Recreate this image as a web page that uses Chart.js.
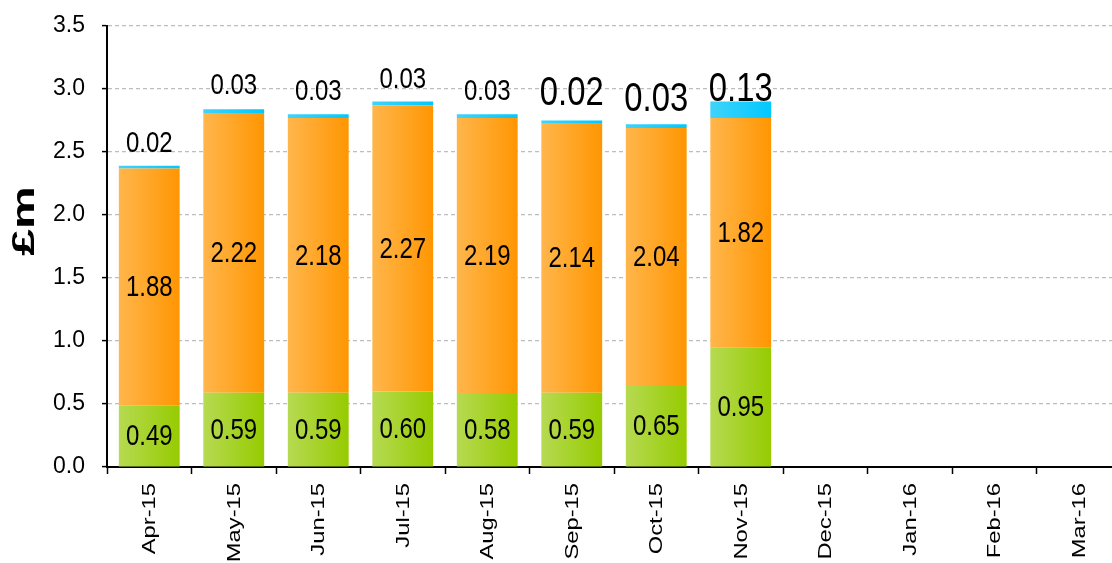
<!DOCTYPE html>
<html>
<head>
<meta charset="utf-8">
<script src="https://cdn.jsdelivr.net/npm/chart.js@4"></script>
<style>
html, body { margin: 0; padding: 0; overflow: hidden; background: #fff; }
canvas { display: block; }
</style>
</head>
<body>
<canvas id="c" width="1124" height="563"></canvas>
<script>
// ---- data ----
const categories = ['Apr-15','May-15','Jun-15','Jul-15','Aug-15','Sep-15','Oct-15','Nov-15','Dec-15','Jan-16','Feb-16','Mar-16'];
const greenValues  = [0.49, 0.59, 0.59, 0.60, 0.58, 0.59, 0.65, 0.95, null, null, null, null];
const orangeValues = [1.88, 2.22, 2.18, 2.27, 2.19, 2.14, 2.04, 1.82, null, null, null, null];
const blueValues   = [0.02, 0.03, 0.03, 0.03, 0.03, 0.02, 0.03, 0.13, null, null, null, null];
const yTickValues  = [0, 0.5, 1.0, 1.5, 2.0, 2.5, 3.0, 3.5];
const yTitle = '£m';

// ---- styles ----
const topLabelSize = [30, 30, 30, 30, 30, 41, 41, 41];
const topLabelGap  = [14, 15, 14, 14, 14, 16, 13, 1];
const BAR_PCT = 0.72;

function grad(chart, i, c1, c2) {
  const xs = chart.scales.x;
  if (!xs || !chart.chartArea) return c2;
  const cx = xs.getPixelForValue(i);
  const w = (xs.width / categories.length) * BAR_PCT;
  const g = chart.ctx.createLinearGradient(cx - w / 2, 0, cx + w / 2, 0);
  g.addColorStop(0, c1);
  g.addColorStop(1, c2);
  return g;
}

function drawScaledText(ctx, txt, x, y, size, sx, baseline, bold) {
  ctx.save();
  ctx.translate(x, y);
  ctx.scale(sx, 1);
  ctx.font = (bold ? 'bold ' : '') + size + 'px "Liberation Sans", Arial, sans-serif';
  ctx.fillStyle = '#000';
  ctx.textAlign = 'center';
  ctx.textBaseline = baseline;
  ctx.fillText(txt, 0, 0);
  ctx.restore();
}

const textPlugin = {
  id: 'texts',
  afterDatasetsDraw(chart) {
    const ctx = chart.ctx;
    chart.data.datasets.forEach((ds, di) => {
      const meta = chart.getDatasetMeta(di);
      meta.data.forEach((bar, i) => {
        const v = ds.data[i];
        if (v == null) return;
        const txt = v.toFixed(2);
        if (di < 2) {
          drawScaledText(ctx, txt, bar.x, (bar.y + bar.base) / 2 + 1, 30, 0.8, 'middle', false);
        } else {
          drawScaledText(ctx, txt, bar.x, bar.y - topLabelGap[i], topLabelSize[i], 0.8, 'alphabetic', false);
        }
      });
    });
  },
  afterDraw(chart) {
    const ctx = chart.ctx;
    const xs = chart.scales.x;
    const top = chart.chartArea.bottom + 16;
    categories.forEach((c, i) => {
      const cx = xs.getPixelForValue(i) + 1;
      ctx.save();
      ctx.translate(cx, top);
      ctx.rotate(-Math.PI / 2);
      ctx.scale(1.32, 1);
      ctx.font = '18px "Liberation Sans", Arial, sans-serif';
      ctx.fillStyle = '#000';
      ctx.textAlign = 'right';
      ctx.textBaseline = 'middle';
      ctx.fillText(c, 0, 0);
      ctx.restore();
    });
    // y title
    ctx.save();
    ctx.translate(25, 221);
    ctx.rotate(-Math.PI / 2);
    ctx.scale(1.5, 1);
    ctx.font = 'bold 32px "Liberation Sans", Arial, sans-serif';
    ctx.fillStyle = '#000';
    ctx.textAlign = 'center';
    ctx.textBaseline = 'middle';
    ctx.fillText(yTitle, 0, 0);
    ctx.restore();
  }
};

new Chart(document.getElementById('c'), {
  type: 'bar',
  data: {
    labels: categories,
    datasets: [
      { label: 'green', data: greenValues,
        backgroundColor: (c) => grad(c.chart, c.dataIndex, '#b6da52', '#96cb00') },
      { label: 'orange', data: orangeValues,
        backgroundColor: (c) => grad(c.chart, c.dataIndex, '#ffb64c', '#ff9602') },
      { label: 'blue', data: blueValues,
        backgroundColor: (c) => grad(c.chart, c.dataIndex, '#40d3fa', '#00c8ff') }
    ]
  },
  options: {
    responsive: false,
    animation: false,
    events: [],
    barPercentage: BAR_PCT,
    categoryPercentage: 1.0,
    borderWidth: 0,
    layout: { padding: { top: 26, right: 3, left: 0, bottom: 0 } },
    plugins: { legend: { display: false }, tooltip: { enabled: false } },
    scales: {
      x: {
        stacked: true,
        afterFit: (s) => { s.height = 96; s.paddingLeft = 0; s.paddingRight = 0; },
        ticks: { display: false },
        grid: { drawOnChartArea: false, drawTicks: true, tickLength: 7, tickColor: '#000', tickWidth: 1.5, offset: true },
        border: { display: true, color: '#000', width: 2 }
      },
      y: {
        stacked: true,
        min: 0, max: 3.5,
        afterFit: (s) => { s.width = 107; s.paddingTop = 0; s.paddingBottom = 0; },
        afterBuildTicks: (s) => { s.ticks = yTickValues.map(v => ({ value: v })); },
        ticks: {
          color: '#000',
          padding: 17,
          font: { family: '"Liberation Sans", Arial, sans-serif', size: 23 },
          callback: (v) => Number(v).toFixed(1)
        },
        grid: {
          color: (c) => (c.tick && c.tick.value === 0) ? 'rgba(0,0,0,0)' : '#bdbdbd',
          lineWidth: 1.2,
          tickColor: '#000',
          tickLength: 5,
          tickWidth: 1.5,
          tickBorderDash: []
        },
        border: { display: true, color: '#000', width: 2, dash: [4, 3] }
      }
    }
  },
  plugins: [textPlugin]
});
</script>
</body>
</html>
